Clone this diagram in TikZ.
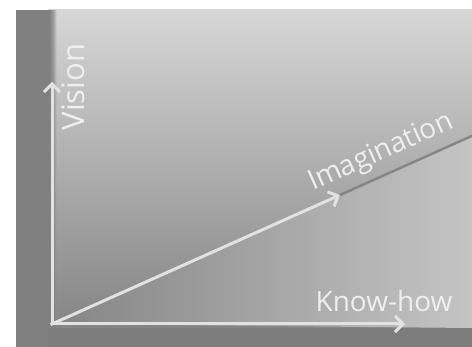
\documentclass[tikz,border=0pt]{standalone}
\usepackage{fontspec}
\setmainfont{Open Sans}
\usetikzlibrary{arrows.meta}
\definecolor{axisgray}{HTML}{E2E2E2}
\definecolor{textgray}{HTML}{EFEFEF}
\begin{document}
\begin{tikzpicture}[x=1pt, y=-1pt,
        axis/.style={draw=axisgray, line width=3pt, line cap=rect, -{Straight Barb[length=8pt, width=16pt]}},
        axistext/.style={text=textgray, font=\fontsize{28}{30}\selectfont, inner sep=0pt, anchor=base}
    ]
    \useasboundingbox (0,0) rectangle (472,347);
    \fill[white] (0,0) rectangle (472,347);

    % Background panels
    \fill[black!50] (16,10) rectangle (472,347);
    \shade[top color=black!16, bottom color=black!48] (48,10) rectangle (472,328);
    \shade[left color=black!48, middle color=black!46, right color=black!23] (52,324) -- (472,136) -- (472,328) -- cycle;
    \fill[black!51] (48,328) rectangle (472,347);

    % Soft edges
    \begin{scope}
        \clip (16,10) rectangle (472,328);
        \coordinate (S1) at (320,204);
        \coordinate (S2) at (480,132.3);
        \foreach \d in {0,2,...,18}
            \draw[black!50, line width=2.1pt, opacity={0.3*(1-\d/20)}, shift={(0.41*\d,0.912*\d)}] (S1) -- (S2);
        \foreach \d in {0,1,...,8}
            \draw[black!50, line width=1.1pt, opacity={1-\d/9}] (48+\d,10) -- (48+\d,328);
    \end{scope}

    % Axes
    \coordinate (O) at (52,324);
    \coordinate (V) at (52,82);
    \coordinate (K) at (405,324);
    \coordinate (I) at (340,195);
    \draw[axis] (O) -- (V);
    \draw[axis] (O) -- (K);
    \draw[axis] (O) -- (I);

    % Labels
    \node[axistext, rotate=90, font=\fontsize{31}{33}\selectfont] (vision) at (84,87) {Vision};
    \node[axistext, rotate=24.2] (imagination) at (384,159) {Imagination};
    \node[axistext] (knowhow) at (384,312) {Know-how};
\end{tikzpicture}
\end{document}
